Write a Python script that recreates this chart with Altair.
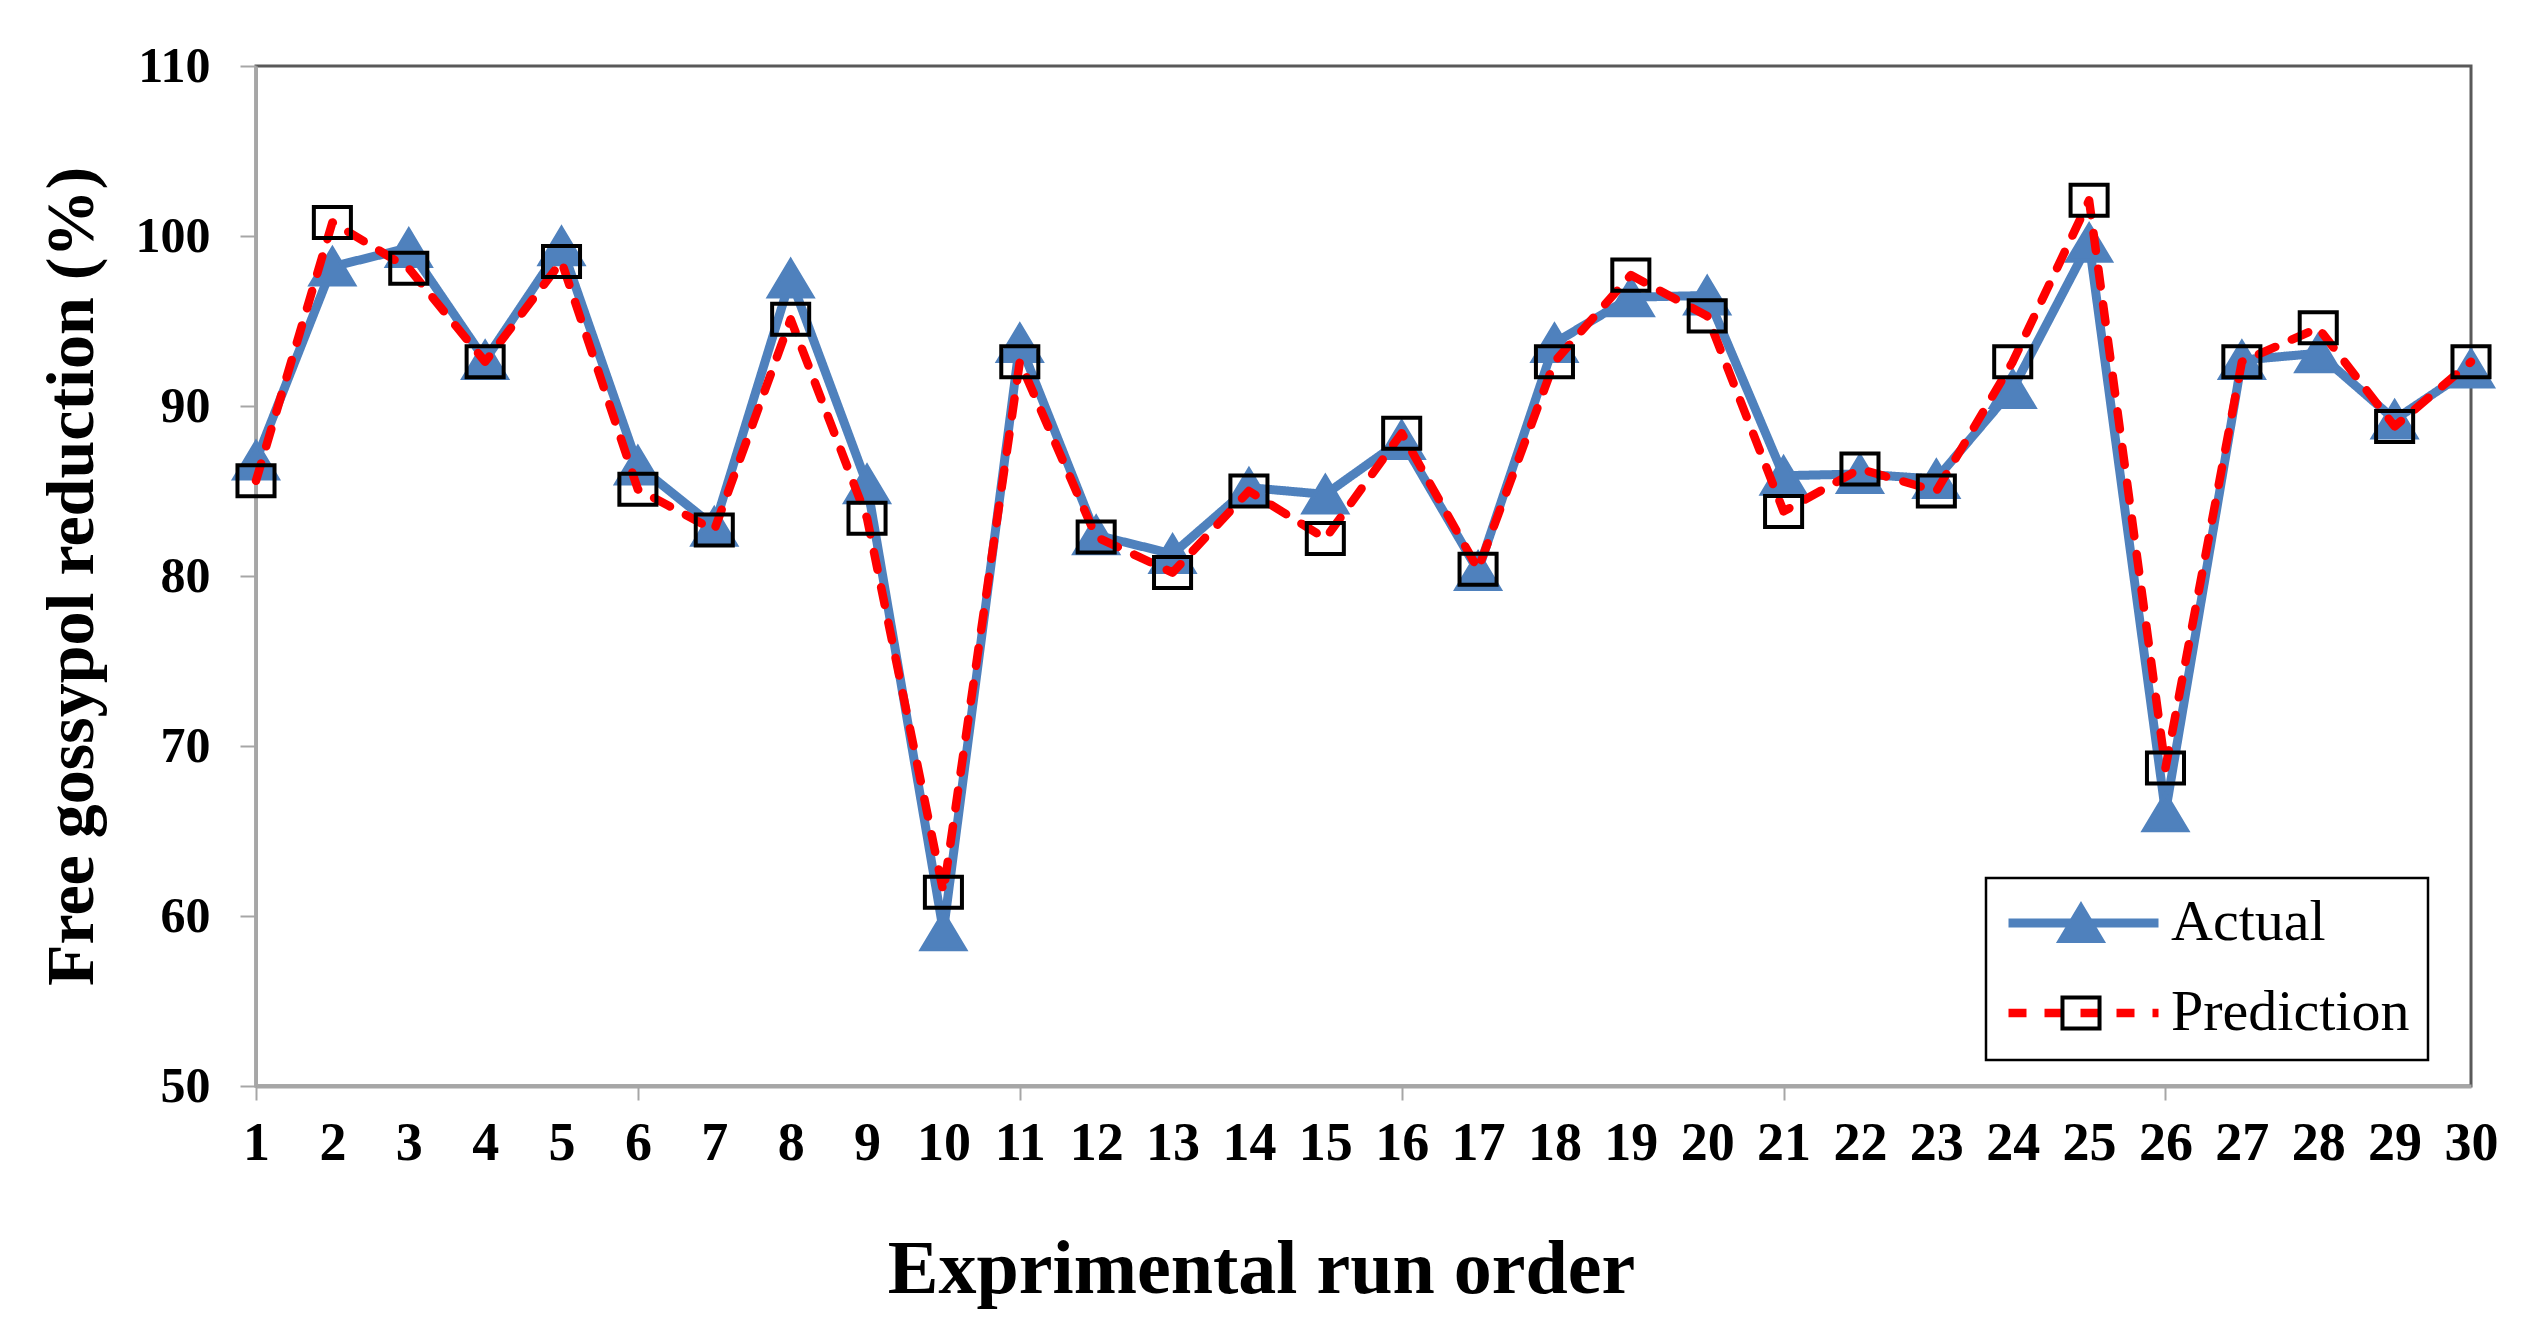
import altair as alt
import pandas as pd

# ---- data ----
runs = list(range(1, 31))
actual = [86.8, 98.2, 99.3, 92.7, 99.4, 86.5, 82.9, 97.5, 85.4, 59.1,
          93.7, 82.4, 81.3, 85.2, 84.8, 88.0, 80.3, 93.7, 96.4, 96.5,
          85.9, 86.0, 85.7, 91.0, 99.6, 66.1, 92.7, 93.1, 89.2, 92.2]
prediction = [85.6, 100.8, 98.1, 92.6, 98.5, 85.1, 82.7, 95.1, 83.4, 61.4,
              92.6, 82.3, 80.2, 85.0, 82.2, 88.4, 80.4, 92.6, 97.7, 95.3,
              83.8, 86.3, 85.0, 92.6, 102.1, 68.7, 92.6, 94.6, 88.8, 92.6]
series_names = ["Actual", "Prediction"]
marker_names = ["Actual marker", "Prediction marker"]
y_ticks = [50, 60, 70, 80, 90, 100, 110]
x_major_ticks = [1, 6, 11, 16, 21, 26]

rows = []
for r, a, p in zip(runs, actual, prediction):
    rows.append({"run": r, "value": a, "series": series_names[0], "series_pt": marker_names[0]})
    rows.append({"run": r, "value": p, "series": series_names[1], "series_pt": marker_names[1]})
df = pd.DataFrame(rows)

FONT = "Liberation Serif"
BLUE = "#4F81BD"
RED = "#FF0000"
AXIS_GRAY = "#A6A6A6"
TRI = "M0,-0.24L0.287,0.24L-0.287,0.24Z"
SQR = "M-0.247,-0.207L0.247,-0.207L0.247,0.207L-0.247,0.207Z"

x_scale = alt.Scale(domain=[1, 30], nice=False, zero=False)
y_scale = alt.Scale(domain=[50, 110], nice=False, zero=False)

y_axis = alt.Axis(values=y_ticks, grid=False, domainColor=AXIS_GRAY, domainWidth=3,
                  tickColor=AXIS_GRAY, tickWidth=2, tickSize=16,
                  labelFont=FONT, labelFontSize=50, labelFontWeight="bold", labelColor="black",
                  labelPadding=30, labelFlush=False,
                  title="Free gossypol reduction (%)", titleFont=FONT, titleFontSize=68,
                  titleFontWeight="bold", titleColor="black", titleX=-164, titleY=510,
                  titleBaseline="alphabetic", titleAngle=270)

x_axis_labels = alt.Axis(values=runs, orient="bottom", ticks=False, grid=False,
                         domainColor=AXIS_GRAY, domainWidth=4,
                         labelFont=FONT, labelFontSize=54, labelFontWeight="bold", labelColor="black",
                         labelPadding=30, labelFlush=False, labelOverlap=False, format="d",
                         title="Exprimental run order", titleFont=FONT, titleFontSize=76,
                         titleFontWeight="bold", titleColor="black", titleX=1005, titleY=206,
                         titleBaseline="alphabetic")
x_axis_ticks = alt.Axis(values=x_major_ticks, orient="bottom", labels=False, domain=False,
                        grid=False, ticks=True, tickColor=AXIS_GRAY, tickWidth=2, tickSize=14,
                        title=None)

common_legend = dict(title=None, orient="none", legendX=1730, legendY=812, direction="vertical",
                     symbolSize=22500, clipHeight=54, rowPadding=32, padding=18, labelOffset=8,
                     labelFont=FONT, labelFontSize=58, labelColor="black", labelLimit=600)
legend_lines = alt.Legend(symbolStrokeWidth=8, strokeColor="black", **common_legend)
legend_marks = alt.Legend(symbolStrokeWidth=4, strokeColor="transparent", labelExpr="''",
                          **common_legend)

base = alt.Chart(df)
Y = alt.Y("value:Q", scale=y_scale, axis=y_axis)

color = alt.Color("series:N", scale=alt.Scale(domain=series_names, range=[BLUE, RED]),
                  legend=legend_lines)
dash = alt.StrokeDash("series:N", scale=alt.Scale(domain=series_names, range=[[1, 0], [18, 18]]),
                      legend=legend_lines)
width = alt.StrokeWidth("series:N", scale=alt.Scale(domain=series_names, range=[9, 8.5]),
                        legend=None)
shape = alt.Shape("series_pt:N", scale=alt.Scale(domain=marker_names, range=[TRI, SQR]),
                  legend=legend_marks)
fill = alt.Fill("series_pt:N", scale=alt.Scale(domain=marker_names, range=[BLUE, "transparent"]),
                legend=legend_marks)
stroke = alt.Stroke("series_pt:N", scale=alt.Scale(domain=marker_names, range=[BLUE, "#000000"]),
                    legend=legend_marks)


def line_layer(name, axis):
    return base.transform_filter(alt.datum.series == name).mark_line(
        strokeCap="round", strokeJoin="round"
    ).encode(x=alt.X("run:Q", scale=x_scale, axis=axis), y=Y, color=color,
             strokeDash=dash, strokeWidth=width)


def point_layer(name, axis):
    return base.transform_filter(alt.datum.series == name).mark_point(
        size=22500, opacity=1, strokeWidth=4
    ).encode(x=alt.X("run:Q", scale=x_scale, axis=axis), y=Y, shape=shape, fill=fill, stroke=stroke)


chart = alt.layer(
    line_layer("Actual", x_axis_labels),
    point_layer("Actual", x_axis_ticks),
    line_layer("Prediction", None),
    point_layer("Prediction", None),
).resolve_axis(x="independent").properties(
    width=2215, height=1020,
    padding={"left": 248, "top": 58, "right": 50, "bottom": 238},
    autosize=alt.AutoSizeParams(type="none"),
).configure_view(stroke="#595959", strokeWidth=3).configure_legend(strokeWidth=2.5)

chart.save("out.html", embed_options={"renderer": "svg", "actions": False})
